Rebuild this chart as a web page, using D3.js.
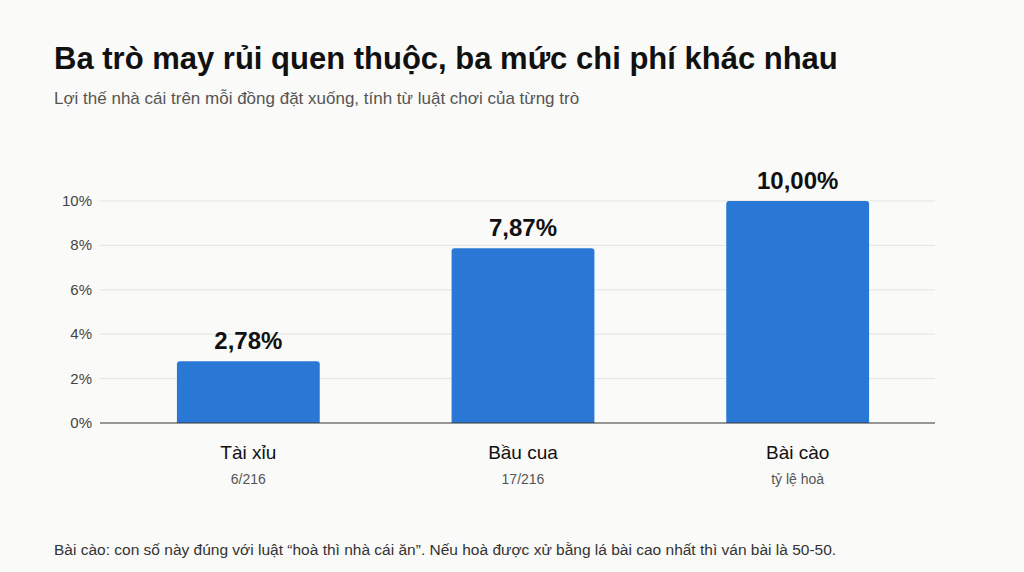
<!DOCTYPE html>
<html><head><meta charset="utf-8">
<script src="https://cdn.jsdelivr.net/npm/d3@7/dist/d3.min.js"></script>
<style>body{margin:0;background:#fafaf8;font-family:"Liberation Sans",Arial,sans-serif}</style>
</head><body><svg id="c" width="1024" height="572"></svg>
<script>
const categories=["Tài xỉu","Bầu cua","Bài cào"];
const subLabels=["6/216","17/216","tỷ lệ hoà"];
const values=[2.78,7.87,10.00];
const yTicks=[0,2,4,6,8,10];
const svg=d3.select("#c");
svg.append("rect").attr("width",1024).attr("height",572).attr("fill","#fafaf8");
svg.append("text").attr("x",54).attr("y",69).attr("font-size",31).attr("font-weight","bold").attr("fill","#111").text("Ba trò may rủi quen thuộc, ba mức chi phí khác nhau");
svg.append("text").attr("x",54).attr("y",104).attr("font-size",17).attr("fill","#555").text("Lợi thế nhà cái trên mỗi đồng đặt xuống, tính từ luật chơi của từng trò");
const y=d3.scaleLinear().domain([0,10]).range([423,201]);
const x=d3.scaleBand().domain(categories).range([111,935]).paddingInner(0.48).paddingOuter(0.24);
const g=svg.append("g");
yTicks.forEach(t=>{
 if(t>0) g.append("line").attr("x1",100).attr("x2",935).attr("y1",y(t)).attr("y2",y(t)).attr("stroke","#e3e3e3");
 g.append("text").attr("x",92).attr("y",y(t)+5).attr("text-anchor","end").attr("font-size",15).attr("fill","#444").text(t+"%");
});
const fmt=v=>v.toFixed(2).replace(".",",")+"%";
categories.forEach((c,i)=>{
 const x0=x(c),w=x.bandwidth(),yt=y(values[i]),r=3;
 g.append("path").attr("fill","#2a78d6").attr("d",`M${x0},423V${yt+r}Q${x0},${yt} ${x0+r},${yt}H${x0+w-r}Q${x0+w},${yt} ${x0+w},${yt+r}V423Z`);
 g.append("text").attr("x",x0+w/2).attr("y",yt-12).attr("text-anchor","middle").attr("font-size",24).attr("font-weight","bold").attr("fill","#111").text(fmt(values[i]));
 g.append("text").attr("x",x0+w/2).attr("y",459).attr("text-anchor","middle").attr("font-size",19).attr("fill","#111").text(c);
 g.append("text").attr("x",x0+w/2).attr("y",484).attr("text-anchor","middle").attr("font-size",14).attr("fill","#555").text(subLabels[i]);
});
g.append("line").attr("x1",100).attr("x2",935).attr("y1",423).attr("y2",423).attr("stroke","#333").attr("stroke-width",1.2);
svg.append("text").attr("x",54).attr("y",555).attr("font-size",15.5).attr("fill","#333").text("Bài cào: con số này đúng với luật “hoà thì nhà cái ăn”. Nếu hoà được xử bằng lá bài cao nhất thì ván bài là 50-50.");
</script></body></html>
